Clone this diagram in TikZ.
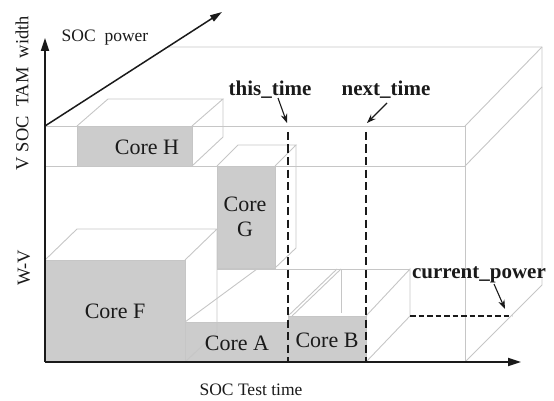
\documentclass[tikz,border=0pt]{standalone}
\usepackage{fontspec}
\setmainfont{Liberation Serif}
\usetikzlibrary{arrows.meta}
\definecolor{corefill}{HTML}{CCCCCC}
\definecolor{boxc}{HTML}{C6C6C6}
\definecolor{inkc}{HTML}{1A1A1A}
\begin{document}
\begin{tikzpicture}[x=1pt,y=-1pt,
  boxline/.style={draw=boxc, line width=0.9pt},
  corebox/.style={fill=corefill, draw=boxc, line width=0.9pt},
  lab/.style={font=\fontsize{22}{24}\selectfont, inner sep=0pt, text=inkc},
  blab/.style={font=\fontsize{21}{23}\selectfont\bfseries, inner sep=0pt, text=inkc},
  axlab/.style={font=\fontsize{17.5}{20}\selectfont, inner sep=0pt, text=inkc},
  timeline/.style={draw=inkc, line width=2.6pt, dash pattern=on 8pt off 4.5pt},
  powline/.style={draw=inkc, line width=1.5pt, dash pattern=on 5.5pt off 3pt},
  axisline/.style={draw=inkc, line width=1.8pt, -{Triangle[length=13pt,width=8pt]}},
  pointer/.style={draw=inkc, line width=1.1pt, -{Stealth[length=9pt,width=6.5pt]}}]
\useasboundingbox (0,0) rectangle (554,401);

% key coordinates
\coordinate (O) at (45,362);
\coordinate (Ytip) at (45,38);
\coordinate (Xtip) at (521,362);
\coordinate (P0) at (45,126);
\coordinate (Ptip) at (222,12);

% ---- gray faces ----
\fill[corefill] (77,126) rectangle (192,166);   % H
\fill[corefill] (217,166) rectangle (275,268);  % G
\fill[corefill] (45,260) rectangle (185,362);   % F
\fill[corefill] (185,322) rectangle (288,362);  % A
\fill[corefill] (288,316) rectangle (366,362);  % B

% ---- big box ----
\draw[boxline] (45,126) -- (465,126);
\draw[boxline] (45,166) -- (465,166);
\draw[boxline] (465,126) -- (465,362);
\draw[boxline] (465,126) -- (542,47);
\draw[boxline] (465,166) -- (542,87);
\draw[boxline] (168,47) -- (542,47) -- (542,285) -- (465,362);

% ---- Core H ----
\draw[boxline] (77,126) rectangle (192,166);
\draw[boxline] (77,126) -- (108,99) -- (223,99) -- (192,126);
\draw[boxline] (223,99) -- (223,137) -- (192,166);

% ---- Core G ----
\draw[boxline] (217,166) rectangle (275,268);
\draw[boxline] (217,166) -- (238,145) -- (296,145) -- (275,166);
\draw[boxline] (296,145) -- (296,248) -- (275,268);

% ---- Core F ----
\draw[boxline] (45,260) -- (185,260) -- (185,362);
\draw[boxline] (45,260) -- (77,229) -- (217,229) -- (185,260);
\draw[boxline] (217,229) -- (217,332) -- (185,362);

% ---- Core A ----
\draw[boxline] (185,322) -- (288,322);
\draw[boxline] (185,322) -- (257,269);
\draw[boxline] (217,269) -- (410,269);

% ---- Core B / current power box ----
\draw[boxline] (288,316) -- (366,316) -- (366,362);
\draw[boxline] (288,316) -- (337,269);
\draw[boxline] (292,316) -- (341,269);
\draw[boxline] (341,269) -- (341,313);
\draw[boxline] (366,316) -- (410,269) -- (410,316);
\draw[boxline] (366,362) -- (410,316);

% ---- labels ----
\node[lab] (coreH) at (147,147) {Core H};
\node[lab, align=center] (coreG) at (245,217) {Core\\[1pt]G};
\node[lab] (coreF) at (115,311) {Core F};
\node[lab] (coreA) at (237,343) {Core A};
\node[lab] (coreB) at (327,340) {Core B};

\node[blab] (thistime) at (270,90) {this\_time};
\node[blab] (nexttime) at (386,90) {next\_time};
\node[blab] (curpow) at (479,275) {current\_power};

\node[axlab] (socpower) at (105,38) {SOC\ \ power};
\node[axlab] (testtime) at (251,390) {SOC Test time};
\node[axlab, font=\fontsize{18.5}{20}\selectfont, rotate=90] (tamwidth) at (22,93) {V SOC\ \ TAM\ \ width};
\node[axlab, font=\fontsize{18.5}{20}\selectfont, rotate=90] (wv) at (24,268) {W-V};

% ---- time lines ----
\coordinate (T1top) at (288,132);
\coordinate (T1bot) at (288,362);
\coordinate (T2top) at (366,132);
\coordinate (T2bot) at (366,362);
\draw[timeline] (T1top) -- (T1bot);
\draw[timeline] (T2top) -- (T2bot);

% current power line
\coordinate (cp1) at (410,316);
\coordinate (cp2) at (512,316);
\draw[powline] (cp1) -- (cp2);

% pointers
\coordinate (t1p) at (287,123);
\coordinate (t2p) at (367,123);
\coordinate (cpp) at (505,309);
\draw[pointer] (278,98) -- (t1p);
\draw[pointer] (387,103) -- (t2p);
\draw[pointer] (494,284) -- (cpp);

% ---- axes ----
\draw[axisline] (O) -- (Ytip);
\draw[axisline] (O) -- (Xtip);
\draw[draw=inkc, line width=1.5pt, -{Triangle[length=12pt,width=7pt]}] (P0) -- (Ptip);
\end{tikzpicture}
\end{document}
